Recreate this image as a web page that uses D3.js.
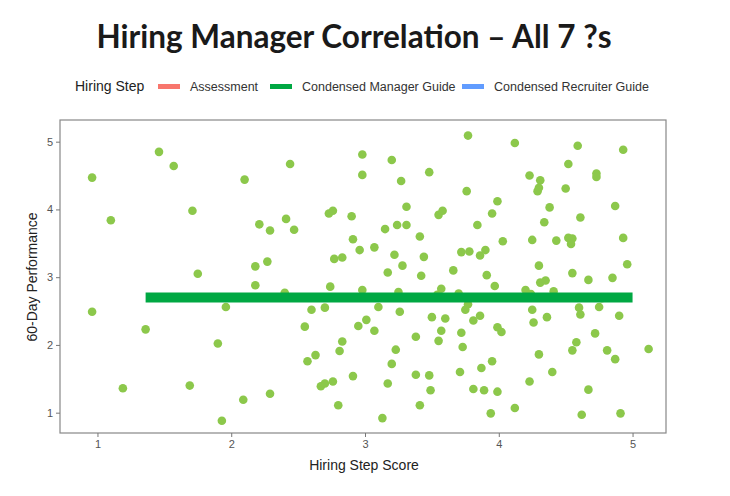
<!DOCTYPE html>
<html><head><meta charset="utf-8">
<script src="https://cdn.jsdelivr.net/npm/d3@7"></script>
<style>body{margin:0;background:#fff}</style></head>
<body><svg id="c" width="730" height="496"></svg>
<script>
const xs=[0.96,1.10,1.46,1.57,1.71,1.75,0.96,1.36,1.19,1.69,1.96,1.90,1.93,2.09,2.29,2.10,2.44,2.21,2.29,2.41,2.47,2.18,2.27,2.18,2.40,2.73,2.76,2.90,2.91,2.77,2.83,2.74,2.60,2.70,2.55,2.83,2.81,2.63,2.57,2.91,2.67,2.70,2.76,2.80,2.95,2.96,2.98,2.98,3.20,3.48,3.27,3.77,3.76,3.31,3.55,3.58,3.15,3.24,3.31,3.41,3.07,3.22,3.44,3.28,3.17,3.42,3.66,2.98,3.25,3.10,3.26,3.01,3.07,3.23,3.20,3.38,3.17,3.13,3.38,3.48,3.49,3.41,3.50,3.60,3.57,3.55,3.54,3.57,3.72,3.78,3.86,3.90,3.84,3.95,3.99,4.03,3.91,3.97,3.70,3.77,3.75,3.81,3.86,3.72,3.73,3.71,3.87,3.95,3.81,3.89,3.99,3.94,3.99,4.02,4.12,4.12,4.23,4.31,4.30,4.29,4.38,4.34,4.25,4.43,4.30,4.31,4.35,4.20,4.24,4.41,4.25,4.26,4.36,4.30,4.23,4.40,4.52,4.59,4.50,4.73,4.73,4.61,4.52,4.55,4.54,4.55,4.67,4.85,4.77,4.60,4.61,4.75,4.90,4.72,4.58,4.55,4.81,4.87,4.67,4.62,4.91,4.93,4.87,4.93,4.96,5.12];
const ys=[4.47,3.84,4.85,4.64,3.98,3.05,2.49,2.23,1.36,1.40,2.56,2.02,0.88,1.19,1.28,4.44,4.67,3.78,3.69,3.86,3.70,3.16,3.23,2.88,2.77,3.94,3.98,3.90,3.56,3.27,3.29,2.86,2.52,2.55,2.27,2.05,1.91,1.85,1.76,1.54,1.39,1.43,1.46,1.11,2.28,3.40,4.81,4.51,4.73,4.55,4.42,5.09,4.27,4.04,3.92,3.98,3.71,3.77,3.77,3.60,3.44,3.33,3.30,3.17,3.07,3.02,3.10,2.81,2.78,2.56,2.49,2.37,2.21,1.93,1.72,2.12,1.43,0.92,1.56,1.55,1.33,1.11,2.41,2.39,2.21,2.06,2.74,2.83,3.37,3.38,3.32,3.40,3.77,3.94,4.12,3.53,3.03,2.87,2.76,2.60,2.52,2.36,2.43,2.18,1.97,1.60,1.66,1.76,1.35,1.33,1.31,0.99,2.26,2.19,4.98,1.07,4.50,4.43,4.32,4.27,4.03,3.81,3.55,3.54,3.17,2.92,2.95,2.81,2.75,2.79,2.52,2.33,2.41,1.86,1.46,1.60,4.67,4.94,4.31,4.53,4.48,3.88,3.58,3.57,3.49,3.06,2.96,2.99,2.69,2.55,2.45,2.56,2.43,2.17,2.04,1.92,1.92,1.79,1.34,0.97,0.99,4.88,4.05,3.58,3.19,1.94];
const fitX=[1.36,5.0];
const fitY=[2.70,2.70];
const steps=["Assessment","Condensed Manager Guide","Condensed Recruiter Guide"];
const stepColors=["#f8766d","#00a843","#619cff"];
const ticks=[1,2,3,4,5];

const svg=d3.select("#c");
const L=60,R=666,T=120,B=433;
const x=d3.scaleLinear().domain([0.72,5.25]).range([L,R]);
const y=d3.scaleLinear().domain([0.70,5.32]).range([B,T]);

svg.append("text").attr("x",354).attr("y",48).attr("text-anchor","middle")
 .attr("font-family","Lato").attr("font-weight","bold").attr("font-size",31.5).attr("fill","#1a1a1a")
 .attr("textLength",515).attr("lengthAdjust","spacingAndGlyphs")
 .text("Hiring Manager Correlation – All 7 ?s");

// legend
const lg=svg.append("g").attr("font-family","Liberation Sans, Arial").attr("font-size",12.5).attr("fill","#333");
lg.append("text").attr("x",75).attr("y",91).attr("font-size",14).attr("fill","#222").text("Hiring Step");
const lx=[158,270,462];
steps.forEach((s,i)=>{
  lg.append("rect").attr("x",lx[i]).attr("y",84).attr("width",22).attr("height",5).attr("fill",stepColors[i]);
  lg.append("text").attr("x",lx[i]+32).attr("y",91).attr("fill","#333").text(s);
});

svg.append("rect").attr("x",L).attr("y",T).attr("width",R-L).attr("height",B-T).attr("fill","#fff").attr("stroke","#888").attr("stroke-width",1.2);

const xa=svg.append("g").attr("transform",`translate(0,${B})`).call(d3.axisBottom(x).tickValues(ticks).tickSize(4).tickFormat(d3.format("d")));
const ya=svg.append("g").attr("transform",`translate(${L},0)`).call(d3.axisLeft(y).tickValues(ticks).tickSize(4).tickFormat(d3.format("d")));
[xa,ya].forEach(a=>{a.select(".domain").remove();a.selectAll("line").attr("stroke","#777");
 a.selectAll("text").attr("fill","#555").attr("font-size",11).attr("font-family","Liberation Sans, Arial");});

svg.append("g").selectAll("circle").data(xs.map((v,i)=>[v,ys[i]])).join("circle")
 .attr("cx",d=>x(d[0])).attr("cy",d=>y(d[1])).attr("r",4.3).attr("fill","#8cc84b");

svg.append("path").datum(fitX.map((v,i)=>[v,fitY[i]]))
 .attr("d",d3.line().x(d=>x(d[0])).y(d=>y(d[1]))).attr("stroke","#00a843").attr("stroke-width",10).attr("fill","none");

svg.append("text").attr("x",364).attr("y",470).attr("text-anchor","middle").attr("font-family","Liberation Sans, Arial").attr("font-size",14).attr("fill","#222").text("Hiring Step Score");
svg.append("text").attr("transform","translate(37,277) rotate(-90)").attr("text-anchor","middle").attr("font-family","Liberation Sans, Arial").attr("font-size",14).attr("fill","#222").text("60-Day Performance");
</script></body></html>
